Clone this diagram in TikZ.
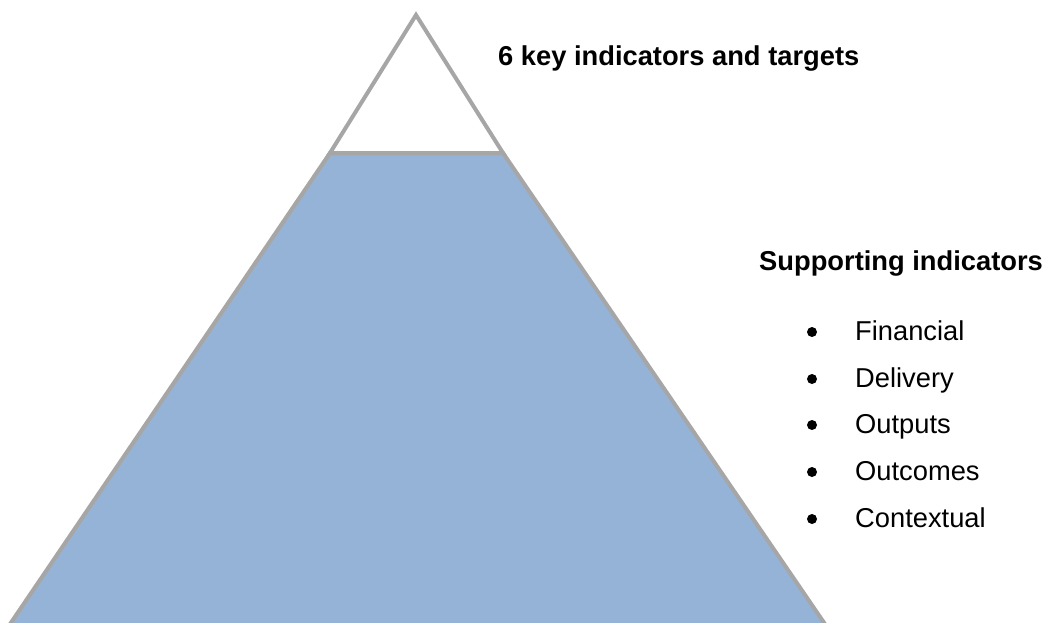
\documentclass[tikz,border=0pt]{standalone}
\usepackage{fontspec}
\setmainfont{Liberation Sans}
\definecolor{IceBlue}{RGB}{149,179,215}
\definecolor{EdgeGrey}{RGB}{166,166,166}
\usetikzlibrary{positioning}

\begin{document}
\begin{tikzpicture}[
            x=1pt, y=-1pt,
            edge/.style={draw=EdgeGrey, line width=4pt, line join=miter},
            heading/.style={anchor=base west, inner sep=0pt, font=\fontsize{27.3}{32}\selectfont\bfseries},
            item/.style={anchor=base west, inner sep=0pt, font=\fontsize{27.3}{32}\selectfont},
            dot/.style={circle, fill=black, inner sep=0pt, minimum size=10pt}
        ]
            \clip (0,0) rectangle (1051,622);

            % corners of the iceberg
            \coordinate (apex) at (416,15);
            \coordinate (tipL) at (330,153);
            \coordinate (tipR) at (503,153);
            \coordinate (baseL) at (6,630);
            \coordinate (baseR) at (829,630);

            % submerged part, then the visible tip
            \draw[edge, fill=IceBlue] (tipL) -- (tipR) -- (baseR) -- (baseL) -- cycle;
            \draw[edge, fill=white] (apex) -- (tipR) -- (tipL) -- cycle;

            \node[heading] (key) at (498,65) {6 key indicators and targets};
            \node[heading] (support) at (759,270) {Supporting indicators};

            \node[item] (fin) at (855,340) {Financial};
            \node[item] (del) at (855,387) {Delivery};
            \node[item] (outp) at (855,433) {Outputs};
            \node[item] (outc) at (855,480) {Outcomes};
            \node[item] (ctx) at (855,527) {Contextual};

            \node[dot] (b1) at (812,332) {};
            \node[dot] (b2) at (812,379) {};
            \node[dot] (b3) at (812,425) {};
            \node[dot] (b4) at (812,472) {};
            \node[dot] (b5) at (812,519) {};
        \end{tikzpicture}
\end{document}
